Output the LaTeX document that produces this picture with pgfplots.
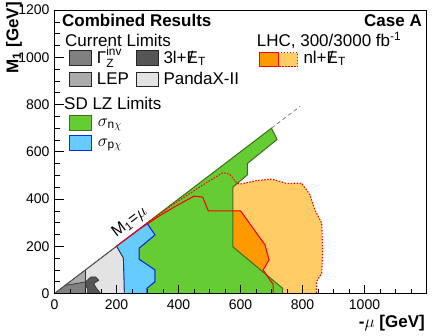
\documentclass[border=0pt]{standalone}
\usepackage{pgfplots}
\pgfplotsset{compat=1.18}
\usepackage{amsmath}
\usepackage{fontspec}
\setmainfont{Liberation Sans}
\definecolor{cgreen}{HTML}{66CC33}
\definecolor{cgreenb}{HTML}{3F6F1A}
\definecolor{cblue}{HTML}{66CCFF}
\definecolor{cblueb}{HTML}{0A2AF0}
\definecolor{corange}{HTML}{FF9900}
\definecolor{clight}{HTML}{FFCC66}
\definecolor{cpanda}{HTML}{E3E3E3}
\definecolor{clep}{HTML}{ABABAB}
\definecolor{cgz}{HTML}{808080}
\definecolor{cthree}{HTML}{555555}
\newcommand\fs{\fontsize{17}{17}\selectfont}
\newcommand\met{\rlap{\kern0.12em/}E\textsubscript{T}}
\begin{document}
\begin{tikzpicture}
\useasboundingbox (0,0) rectangle (433pt,-335pt);
\begin{axis}[
  at={(54.5pt,-293.5pt)}, anchor=south west,
  width=372pt, height=283.5pt, scale only axis,
  xmin=0, xmax=1200, ymin=0, ymax=1200,
  xtick={0,200,...,1200}, ytick={0,200,...,1200},
  xticklabels={0,200,400,600,800,1000,},
  minor xtick={50,100,...,1150}, minor ytick={50,100,...,1150},
  tick align=inside, xtick pos=bottom, ytick pos=left,
  major tick length=9pt, minor tick length=5pt,
  tick style={black, line width=0.6pt},
  axis line style={line width=0.8pt},
  ticklabel style={font=\fontsize{14}{14}\selectfont},
  xticklabel style={yshift=-3pt},
  yticklabel style={xshift=-1.5pt},
  /pgf/number format/assume math mode=true,
  /pgf/number format/1000 sep={},
  axis on top, no markers, line join=round,
]
% LHC 3000 fb-1 (light orange)
\addplot[fill=clight, draw=none] coordinates {(297,297)(383,378)(491,470)(544,512)(565,505)(588,467)(598,463)(652,478)(700,484)(749,466)(797,467)(824,418)(840,354)(862,298)(865,184)(862,86)(845,50)(845,0)(297,0)} -- cycle;
% LHC 300 fb-1 (dark orange)
\addplot[fill=corange, draw=none] coordinates {(200,200)(276,274)(340,330)(394,372)(450,412)(478,408)(496,350)(600,350)(679,206)(692,142)(673,100)(695,57)(705,40)(705,0)(200,0)} -- cycle;
% sigma_n chi (green)
\addplot[fill=cgreen, draw=cgreenb, line width=1pt] coordinates {(298,298)(700,700)(718,652)(622,550)(622,502)(575,450)(575,198)(736,22)(736,0)(298,0)(298,22)(324,50)(324,100)(273,145)(273,192)(324,248)} -- cycle;
% sigma_p chi (blue)
\addplot[fill=cblue, draw=cblueb, line width=1pt] coordinates {(200,200)(298,298)(324,248)(273,192)(273,145)(324,100)(324,50)(298,22)(298,0)(225,0)(222,150)} -- cycle;
% PandaX-II
\addplot[fill=cpanda, draw=black!80, line width=0.8pt] coordinates {(0,0)(200,200)(222,150)(225,0)} -- cycle;
% Gamma_Z inv
\addplot[fill=cgz, draw=black!80, line width=0.6pt] coordinates {(0,0)(35,35)(100,49)(100,0)} -- cycle;
% LEP
\addplot[fill=clep, draw=black!80, line width=0.6pt] coordinates {(35,35)(100,100)(100,49)} -- cycle;
% 3l + MET
\addplot[fill=cthree, draw=black!80, line width=0.6pt] coordinates {(100,49)(117,70)(133,70)(143,56)(127,42)(133,27)(141,14)(149,0)(106,0)(106,20)(100,35)} -- cycle;
% diagonal M1 = mu
\addplot[black!65, line width=0.8pt] coordinates {(0,0)(200,200)};
\addplot[gray, line width=0.8pt, dash pattern=on 4pt off 3pt] coordinates {(700,700)(792,792)};
% contour lines
\addplot[red, line width=1.1pt] coordinates {(200,200)(276,274)(340,330)(394,372)(450,412)(478,408)(496,350)(600,350)(679,206)(692,142)(673,100)(695,57)(705,40)(705,0)};
\addplot[red, line width=1.1pt, dash pattern=on 1.5pt off 1.5pt] coordinates {(297,297)(383,378)(491,470)(544,512)(565,505)(588,467)(598,463)(652,478)(700,484)(749,466)(797,467)(824,418)(840,354)(862,298)(865,184)(862,86)(845,50)(845,0)};
\end{axis}
\begin{scope}[x=1pt, y=-1pt]
\node[anchor=base west, font=\fs\bfseries, inner sep=0] at (62,26.7) {Combined Results};
\node[anchor=base east, font=\fs\bfseries, inner sep=0] at (422,26.7) {Case A};
\node[anchor=base west, font=\fs, inner sep=0] at (65,46) {Current Limits};
\draw[fill=cgz, draw=black!85, line width=0.8pt] (69.3,50.5) rectangle (91,65);
\node[anchor=base west, font=\fs, inner sep=0] at (96.7,63) {$\text{Γ}^{\text{inv}}_{\text{Z}}$};
\draw[fill=cthree, draw=black!85, line width=0.8pt] (136.7,50.5) rectangle (158.3,65);
\node[anchor=base west, font=\fs, inner sep=0] at (163.3,63) {3l+\met};
\draw[fill=clep, draw=black!85, line width=0.8pt] (69.3,72) rectangle (91,86.5);
\node[anchor=base west, font=\fs, inner sep=0] at (96.7,84) {LEP};
\draw[fill=cpanda, draw=black!85, line width=0.8pt] (136.7,72) rectangle (158.3,86.5);
\node[anchor=base west, font=\fs, inner sep=0] at (163.3,84) {PandaX-II};
\node[anchor=base west, font=\fs, inner sep=0] at (64,109) {SD LZ Limits};
\draw[fill=cgreen, draw=cgreenb, line width=0.8pt] (69.3,115.5) rectangle (91,130);
\node[anchor=base west, font=\fs, inner sep=0] at (97.7,126) {$\sigma_{\mathrm{n}\chi}$};
\draw[fill=cblue, draw=cblueb, line width=0.8pt] (69.3,135.5) rectangle (91,150);
\node[anchor=base west, font=\fs, inner sep=0] at (97.7,146) {$\sigma_{\mathrm{p}\chi}$};
\node[anchor=base west, font=\fs, inner sep=0] at (256.7,46.7) {LHC, 300/3000 fb\textsuperscript{-1}};
\fill[corange] (259.3,52.7) rectangle (278.3,66.7);
\fill[clight] (278.3,52.7) rectangle (297.7,66.7);
\draw[red, line width=1pt, dash pattern=on 1.5pt off 1.5pt] (278.3,52.7) rectangle (297.7,66.7);
\draw[red, line width=1pt] (259.3,52.7) rectangle (278.3,66.7);
\node[anchor=base west, font=\fs, inner sep=0] at (303.3,63) {nl+\met};
\node[rotate=37, font=\fontsize{16}{16}\selectfont, inner sep=0] at (130,222.5) {M\textsubscript{1}=$\mu$};
\node[rotate=90, anchor=east, font=\fs\bfseries, inner sep=0] at (14,2) {M\textsubscript{1} [GeV]};
\node[anchor=base east, font=\fs\bfseries, inner sep=0] at (425,327) {-$\mu$ [GeV]};
\end{scope}
\end{tikzpicture}
\end{document}
